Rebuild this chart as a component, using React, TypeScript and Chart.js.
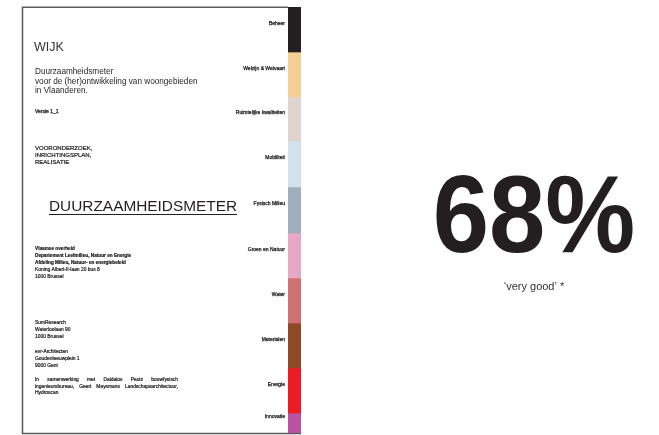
import React, { useEffect, useRef } from "react";
import { Chart, registerables } from "chart.js";

Chart.register(...registerables);

// ---- data ----
const themes = [
  "Beheer",
  "Welzijn & Welvaart",
  "Ruimtelijke kwaliteiten",
  "Mobiliteit",
  "Fysisch Milieu",
  "Groen en Natuur",
  "Water",
  "Materialen",
  "Energie",
  "Innovatie",
];
const segmentHeights = [45, 45, 44, 46, 46, 45, 45, 45, 45, 20];
const themeColors = [
  "#231f20",
  "#f6cf94",
  "#e0d4d0",
  "#d3e1ea",
  "#9fadbd",
  "#e7a8c6",
  "#cf7171",
  "#8f4923",
  "#ec1c24",
  "#bb519f",
];
const scoreText = "68%";
const verdictText = "\u2018very good\u2019 *";

const coverTitle = "WIJK";
const subtitleLines = [
  "Duurzaamheidsmeter",
  "voor de (her)ontwikkeling van woongebieden",
  "in Vlaanderen.",
];
const versionText = "Versie 1_1";
const phaseLines = ["VOORONDERZOEK,", "INRICHTINGSPLAN,", "REALISATIE"];
const bigTitle = "DUURZAAMHEIDSMETER";
const authorityBold = [
  "Vlaamse overheid",
  "Departement Leefmilieu, Natuur en Energie",
  "Afdeling Milieu, Natuur- en energiebeleid",
];
const authorityPlain = ["Koning Albert-II-laan 20 bus 8", "1000 Brussel"];
const partner1 = ["SumResearch", "Waterloolaan 90", "1000 Brussel"];
const partner2 = ["evr-Architecten", "Goudenleeuwplein 1", "9000 Gent"];
const collabLines = [
  "In samenwerking met Daidalos Peutz bouwfysisch",
  "ingenieursbureau, Geert Meysmans Landschapsarchitectuur,",
  "Hydroscan",
];

const FONT = "'Liberation Sans', Arial, Helvetica, sans-serif";

function heavyText(ctx: CanvasRenderingContext2D, text: string, x: number, y: number) {
  ctx.fillText(text, x, y);
  ctx.strokeText(text, x, y);
}

function justify(ctx: CanvasRenderingContext2D, text: string, x: number, y: number, width: number) {
  const words = text.split(" ");
  const total = words.reduce((s, w) => s + ctx.measureText(w).width, 0);
  const gap = words.length > 1 ? (width - total) / (words.length - 1) : 0;
  let cx = x;
  for (const w of words) {
    heavyText(ctx, w, cx, y);
    cx += ctx.measureText(w).width + gap;
  }
}

const coverPlugin = {
  id: "cover",
  beforeDatasetsDraw(chart: any) {
    const ctx: CanvasRenderingContext2D = chart.ctx;
    const a = chart.chartArea;
    ctx.save();
    ctx.strokeStyle = "#5a5a5a";
    ctx.lineWidth = 1.5;
    ctx.beginPath();
    ctx.moveTo(a.left, 7.25);
    ctx.lineTo(22.5, 7.25);
    ctx.lineTo(22.5, 433.5);
    ctx.lineTo(a.right, 433.5);
    ctx.stroke();
    ctx.restore();
  },
  afterDraw(chart: any) {
    const ctx: CanvasRenderingContext2D = chart.ctx;
    const a = chart.chartArea;
    ctx.save();
    ctx.textBaseline = "middle";
    ctx.textAlign = "left";

    // strip labels
    ctx.fillStyle = "#1a1718";
    ctx.strokeStyle = "#1a1718";
    ctx.lineWidth = 0.25;
    ctx.font = `5px ${FONT}`;
    ctx.textAlign = "right";
    themes.forEach((t, i) => {
      const el = chart.getDatasetMeta(i).data[0];
      if (!el) return;
      const p = el.getProps(["y", "base"], true);
      const c = (p.y + p.base) / 2;
      heavyText(ctx, t, a.left - 3, c - 6);
    });
    ctx.textAlign = "left";

    // title
    ctx.fillStyle = "#333333";
    ctx.font = `12.5px ${FONT}`;
    ctx.fillText(coverTitle, 34, 48);

    ctx.fillStyle = "#231f20";
    ctx.font = `8.2px ${FONT}`;
    subtitleLines.forEach((l, i) => ctx.fillText(l, 35, 72 + i * 9.5));

    ctx.fillStyle = "#1a1718";
    ctx.font = `5px ${FONT}`;
    heavyText(ctx, versionText, 35, 112);

    ctx.font = `6px ${FONT}`;
    ctx.lineWidth = 0.2;
    phaseLines.forEach((l, i) => heavyText(ctx, l, 35, 148 + i * 7));

    // big title with underline
    ctx.fillStyle = "#231f20";
    ctx.font = `15.4px ${FONT}`;
    ctx.fillText(bigTitle, 49, 207);
    const w = ctx.measureText(bigTitle).width;
    ctx.strokeStyle = "#231f20";
    ctx.lineWidth = 1;
    ctx.beginPath();
    ctx.moveTo(49, 214.5);
    ctx.lineTo(49 + w, 214.5);
    ctx.stroke();

    // authority
    ctx.fillStyle = "#1a1718";
    ctx.strokeStyle = "#1a1718";
    ctx.lineWidth = 0.2;
    ctx.font = `bold 4.7px ${FONT}`;
    authorityBold.forEach((l, i) => heavyText(ctx, l, 35, 249 + i * 7));
    ctx.font = `4.9px ${FONT}`;
    authorityPlain.forEach((l, i) => heavyText(ctx, l, 35, 270 + i * 7));

    partner1.forEach((l, i) => heavyText(ctx, l, 35, 323 + i * 7));
    partner2.forEach((l, i) => heavyText(ctx, l, 35, 352 + i * 7));

    collabLines.forEach((l, i) => {
      if (i < collabLines.length - 1) justify(ctx, l, 35, 380 + i * 6.5, 143);
      else heavyText(ctx, l, 35, 380 + i * 6.5);
    });

    // score
    ctx.fillStyle = "#231f20";
    ctx.textAlign = "center";
    ctx.textBaseline = "alphabetic";
    ctx.font = `bold 110px ${FONT}`;
    ctx.save();
    ctx.translate(534, 0);
    ctx.scale(0.92, 1);
    ctx.fillText(scoreText, 0, 252);
    ctx.restore();

    ctx.fillStyle = "#333333";
    ctx.font = `11px ${FONT}`;
    ctx.textBaseline = "middle";
    ctx.fillText(verdictText, 534, 287);

    ctx.restore();
  },
};

export default function App() {
  const ref = useRef<HTMLCanvasElement | null>(null);
  useEffect(() => {
    if (!ref.current) return;
    const total = segmentHeights.reduce((s, v) => s + v, 0);
    const chart = new Chart(ref.current, {
      type: "bar",
      data: {
        labels: ["Duurzaamheidsmeter"],
        datasets: themes.map((t, i) => ({
          label: t,
          data: [segmentHeights[i]],
          backgroundColor: themeColors[i],
          borderWidth: 0,
          barPercentage: 1,
          categoryPercentage: 1,
        })),
      },
      options: {
        responsive: false,
        animation: false,
        devicePixelRatio: 1,
        layout: { padding: { left: 288, right: 358, top: 7, bottom: 2 } },
        plugins: {
          legend: { display: false },
          tooltip: { enabled: false },
          title: { display: false },
        },
        scales: {
          x: { stacked: true, display: false },
          y: { stacked: true, display: false, reverse: true, min: 0, max: total },
        },
      },
      plugins: [coverPlugin],
    });
    return () => chart.destroy();
  }, []);
  return (
    <div style={{ position: "absolute", left: 0, top: 0, width: 659, height: 435, background: "#fff" }}>
      <canvas ref={ref} width={659} height={435} style={{ display: "block" }} />
    </div>
  );
}
